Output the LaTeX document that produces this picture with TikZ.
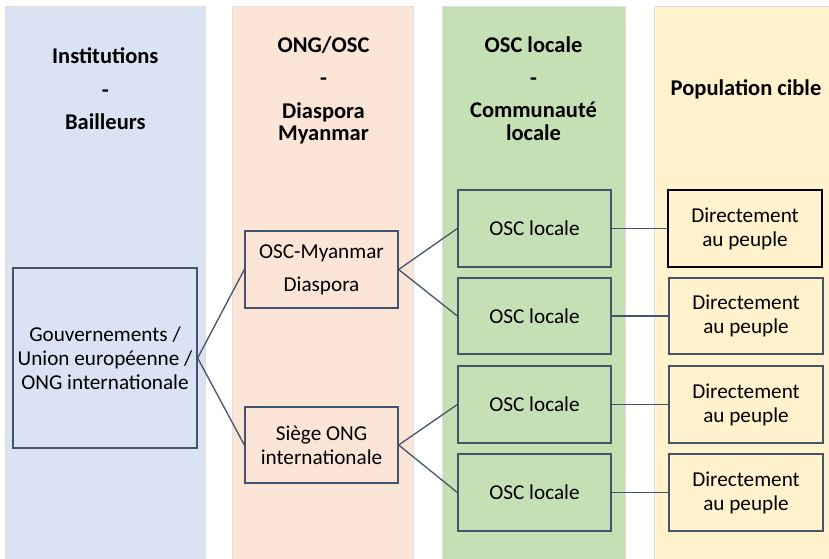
\documentclass[tikz,border=0pt]{standalone}
\usepackage{fontspec}
\setmainfont{Carlito}
\definecolor{colblue}{HTML}{DAE3F3}
\definecolor{colorange}{HTML}{FBE5D6}
\definecolor{colgreen}{HTML}{C5E0B4}
\definecolor{colyellow}{HTML}{FFF2CC}
\definecolor{edgecol}{HTML}{44546A}
\tikzset{
  column/.style={draw=black!12, line width=0.6pt},
  head/.style={font=\bfseries\fontsize{22.5}{25}\selectfont, inner sep=0pt, anchor=base},
  box/.style={draw=edgecol, line width=1.3pt, font=\fontsize{21.2}{24}\selectfont, align=center, inner sep=0pt},
  link/.style={draw=edgecol, line width=1.3pt},
}
\begin{document}
\begin{tikzpicture}[x=1pt,y=-1pt]
\useasboundingbox (0,0) rectangle (829,558);
\fill[white] (0,0) rectangle (829,558);
% columns
\path[column, fill=colblue] (5,6) rectangle (205,560);
\path[column, fill=colorange] (232,6) rectangle (413,560);
\path[column, fill=colgreen] (442,6) rectangle (625,560);
\path[column, fill=colyellow] (654,6) rectangle (832,560);
% headers
\node[head] (h1a) at (105.3,63.3) {Institutions};
\node[head] (h1b) at (105.3,97) {-};
\node[head] (h1c) at (105.3,129) {Bailleurs};
\node[head] (h2a) at (323.5,52.7) {ONG/OSC};
\node[head] (h2b) at (323.5,85.3) {-};
\node[head] (h2c) at (323.5,118.3) {Diaspora};
\node[head] (h2d) at (323.5,140.5) {Myanmar};
\node[head] (h3a) at (533.5,52.7) {OSC locale};
\node[head] (h3b) at (533.5,85.3) {-};
\node[head] (h3c) at (533.5,117.5) {Communauté};
\node[head] (h3d) at (533.5,140) {locale};
\node[head] (h4) at (746,95) {Population cible};
% boxes
\node[box, fill=colblue, minimum width=184pt, minimum height=180pt] (gov) at (105,358) {Gouvernements /\\Union européenne /\\ONG internationale};
\node[box, fill=colorange, minimum width=153pt, minimum height=77pt] (dia) at (321.5,269.5) {OSC-Myanmar\\[9pt]Diaspora};
\node[box, fill=colorange, minimum width=153pt, minimum height=76pt] (siege) at (321.5,445) {Siège ONG\\internationale};
\node[box, fill=colgreen, minimum width=153pt, minimum height=77pt] (osc1) at (534.5,228.5) {OSC locale};
\node[box, fill=colgreen, minimum width=153pt, minimum height=76pt] (osc2) at (534.5,316) {OSC locale};
\node[box, fill=colgreen, minimum width=153pt, minimum height=77pt] (osc3) at (534.5,404.5) {OSC locale};
\node[box, fill=colgreen, minimum width=153pt, minimum height=77pt] (osc4) at (534.5,492.5) {OSC locale};
\node[box, draw=black, fill=colyellow, minimum width=154pt, minimum height=77pt] (dir1) at (745,228.5) {Directement\\au peuple};
\node[box, fill=colyellow, minimum width=154pt, minimum height=76pt] (dir2) at (746,316) {Directement\\au peuple};
\node[box, fill=colyellow, minimum width=154pt, minimum height=77pt] (dir3) at (746,404.5) {Directement\\au peuple};
\node[box, fill=colyellow, minimum width=154pt, minimum height=77pt] (dir4) at (746,492.5) {Directement\\au peuple};
% connectors
\draw[link] (gov.east) -- (dia.west);
\draw[link] (gov.east) -- (siege.west);
\draw[link] (dia.east) -- (osc1.west);
\draw[link] (dia.east) -- (osc2.west);
\draw[link] (siege.east) -- (osc3.west);
\draw[link] (siege.east) -- (osc4.west);
\draw[link] (osc1.east) -- (dir1.west);
\draw[link] (osc2.east) -- (dir2.west);
\draw[link] (osc3.east) -- (dir3.west);
\draw[link] (osc4.east) -- (dir4.west);
\end{tikzpicture}
\end{document}
